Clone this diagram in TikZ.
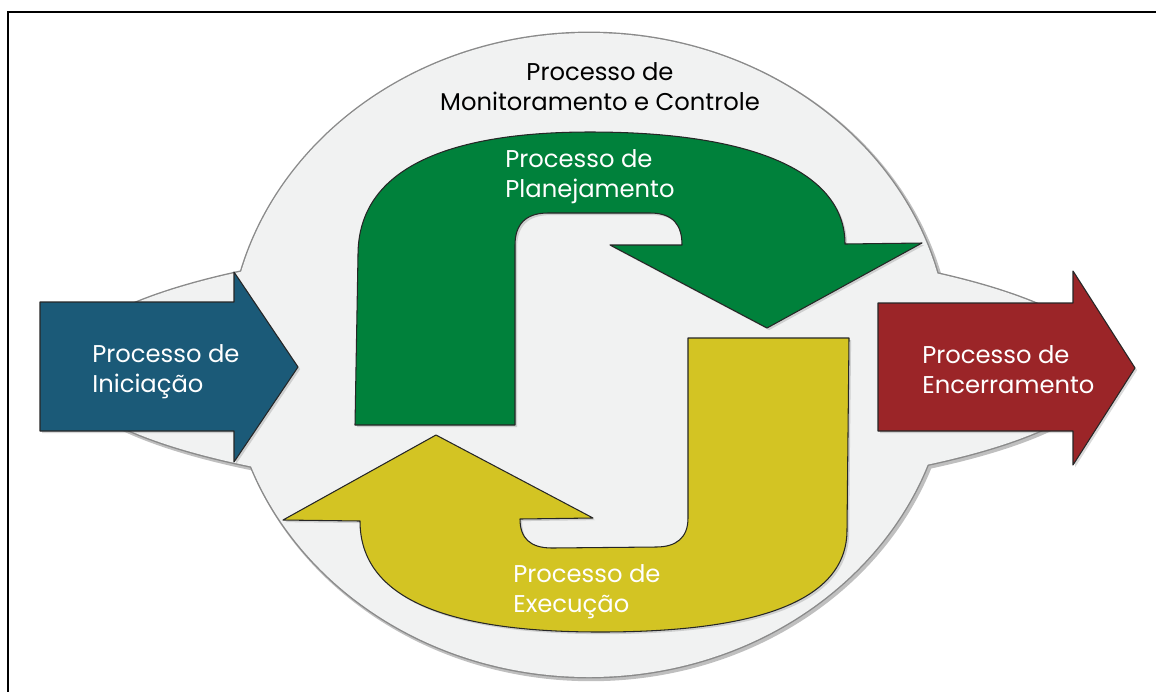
\documentclass[tikz,border=0pt]{standalone}
\usepackage{fontspec}
\setmainfont{Poppins}
\usetikzlibrary{shadows}

\definecolor{cyclefill}{HTML}{F1F2F2}
\definecolor{cycleline}{HTML}{8A8A8A}
\definecolor{initblue}{HTML}{1B5A78}
\definecolor{planverde}{HTML}{00813B}
\definecolor{execamarelo}{HTML}{D3C423}
\definecolor{fimred}{HTML}{9B2528}

\begin{document}
\begin{tikzpicture}[x=0.02cm, y=-0.02cm,
    every node/.style={font=\fontsize{13.8}{17}\selectfont, inner sep=0pt},
    procarrow/.style={draw=black!85, line width=0.6pt, line join=round,
        drop shadow={shadow xshift=1.2pt, shadow yshift=-1.2pt, opacity=0.3}},
    proclabel/.style={text=white, align=left, anchor=base west},
    cyclelabel/.style={text=black, align=center, anchor=base}
]
\useasboundingbox (0,0) rectangle (1156,691);

% frame
\draw[line width=1.3pt] (8,700) |- (1160,12);

% monitoring and control background
\draw[black!25, line width=2.5pt, shift={(2,2)}] (589,355) ellipse [x radius=360, y radius=322];
\draw[black!25, line width=2.5pt, shift={(2,2)}] (585,368) ellipse [x radius=522, y radius=128];
\draw[cycleline, line width=1.6pt] (589,355) ellipse [x radius=360, y radius=322];
\draw[cycleline, line width=1.6pt] (585,368) ellipse [x radius=522, y radius=128];
\fill[cyclefill] (589,355) ellipse [x radius=360, y radius=322];
\fill[cyclefill] (585,368) ellipse [x radius=522, y radius=128];

% initiation and closing
\path[procarrow, fill=initblue] (40,302) -- (234,302) -- (234,272) -- (298,367)
    -- (234,462) -- (234,431) -- (40,431) -- cycle;
\path[procarrow, fill=fimred] (878,303) -- (1073,303) -- (1073,271) -- (1135,368)
    -- (1073,465) -- (1073,431) -- (878,431) -- cycle;

% planning (green)
\path[procarrow, fill=planverde] (355,425) -- (358,255)
    .. controls (358,165) and (455,132) .. (590,132)
    .. controls (760,132) and (845,175) .. (845,244)
    -- (922,243) -- (767,328) -- (610,245) -- (682,245)
    .. controls (682,226) and (674,213) .. (650,213)
    -- (548,213) .. controls (526,213) and (515,224) .. (515,245)
    -- (515,425) -- cycle;

% execution (yellow)
\path[procarrow, fill=execamarelo] (849,338) -- (847,530)
    .. controls (847,600) and (760,632) .. (600,632)
    .. controls (450,632) and (360,600) .. (360,521)
    -- (283,520) -- (436,435) -- (593,518) -- (520,519)
    .. controls (520,538) and (530,548) .. (552,548)
    -- (656,547) .. controls (676,547) and (688,538) .. (688,518)
    -- (688,338) -- cycle;

% labels (base anchor sits on the last line)
\node[cyclelabel] (monitor) at (600,110) {Processo de\\Monitoramento e Controle};
\node[proclabel] (inicio) at (92,392) {Processo de\\Iniciação};
\node[proclabel] (planeja) at (505,197) {Processo de\\Planejamento};
\node[proclabel] (execucao) at (513,612) {Processo de\\Execução};
\node[proclabel] (encerra) at (922,393) {Processo de\\Encerramento};

\end{tikzpicture}
\end{document}
